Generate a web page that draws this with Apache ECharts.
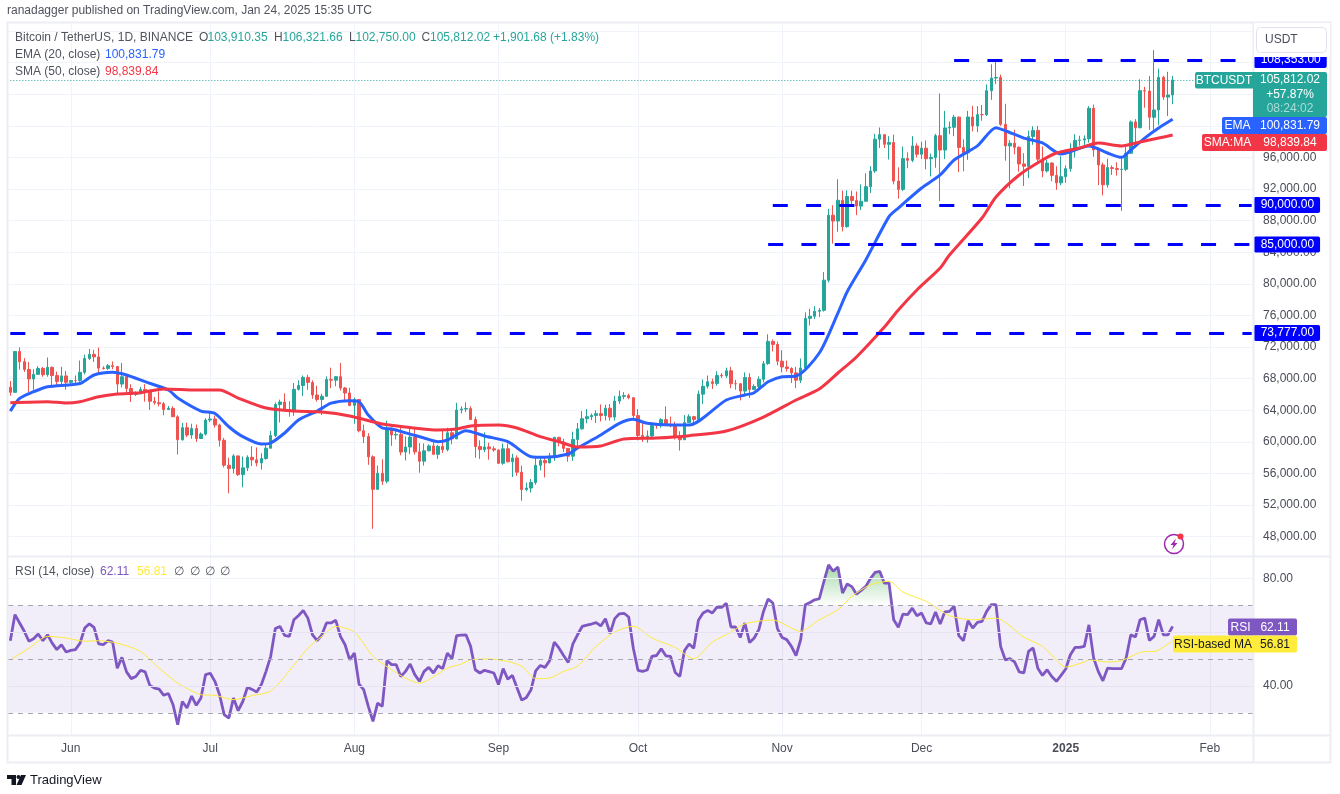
<!DOCTYPE html>
<html>
<head>
<meta charset="utf-8">
<title>BTCUSDT 1D</title>
<script src="https://cdn.jsdelivr.net/npm/echarts@6/dist/echarts.min.js"></script>
<style>
html,body{margin:0;padding:0;background:#fff}
#chart{width:1340px;height:794px}
</style>
</head>
<body>
<div id="chart"></div>
<script type="text/javascript">
// daily candles, 2024-05-19 .. 2025-01-24
var opens = [66915,66274,71446,70148,69166,67969,68549,69290,68507,69436,68398,67652,68352,
67540,67766,67765,68809,70567,71082,70757,69342,69305,69649,69538,67321,68243,66756,66011,66191,66639,66490,65140,64960,64828,64096,64245,63180,60277,61806,60864,61706,60427,60986,
62772,62899,62135,60208,57050,56628,58230,55857,56714,58050,57725,57339,57889,59204,60797,64724,65043,64087,63987,66660,67139,68165,67532,65936,65372,65777,67912,67813,68255,66819,66201,
64619,65357,61415,60680,58116,53991,56034,55027,61710,60880,60945,58719,59354,60609,58739,57560,58874,59491,58427,59438,59013,61156,60381,64037,64157,64220,62834,59415,59034,59359,59123,
58973,57301,59132,57487,57970,56160,53962,54160,54869,57040,57649,57343,58127,60571,60005,59182,58192,60308,61649,62940,63192,63348,63578,63339,64262,63143,65173,65769,65858,65602,
63327,60805,60649,60752,62086,62058,62819,62224,62160,60636,60274,62445,63193,62851,66046,67041,67612,67399,68418,68362,69001,67367,67361,66432,68161,66642,67014,67929,69907,72720,72339,
70215,69482,69289,68741,67811,69359,75639,75904,76538,76649,80474,88701,87955,90585,87250,91066,90558,89845,90464,92310,94287,98317,98892,97672,97900,93010,91965,95863,95643,97460,
96407,97185,95840,96002,98768,96945,99740,99831,101109,97276,96593,101125,100000,101424,101420,104463,106058,106133,100204,97461,97805,97291,95186,94881,98663,99430,95792,94299,95300,93738,92792,
93576,94591,96984,98174,98220,98363,102235,96954,95060,92552,94726,94599,94488,94516,96534,100504,99756,104462,104408,101089,102016,106146,103653,103910.35];
var closes = [66274,71446,70148,69166,67969,68549,69290,68507,69436,68398,67652,68352,67540,
67766,67765,68809,70567,71082,70757,69342,69305,69649,69538,67321,68243,66756,66011,66191,66639,66490,65140,64960,64828,64096,64245,63180,60277,61806,60864,61706,60427,60986,62772,
62899,62135,60208,57050,56628,58230,55857,56714,58050,57725,57339,57889,59204,60797,64724,65043,64087,63987,66660,67139,68165,67532,65936,65372,65777,67912,67813,68255,66819,66201,64619,
65357,61415,60680,58116,53991,56034,55027,61710,60880,60945,58719,59354,60609,58739,57560,58874,59491,58427,59438,59013,61156,60381,64037,64157,64220,62834,59415,59034,59359,59123,58973,
57301,59132,57487,57970,56160,53962,54160,54869,57040,57649,57343,58127,60571,60005,59182,58192,60308,61649,62940,63192,63348,63578,63339,64262,63143,65173,65769,65858,65602,63327,
60805,60649,60752,62086,62058,62819,62224,62160,60636,60274,62445,63193,62851,66046,67041,67612,67399,68418,68362,69001,67367,67361,66432,68161,66642,67014,67929,69907,72720,72339,70215,
69482,69289,68741,67811,69359,75639,75904,76538,76649,80474,88701,87955,90585,87250,91066,90558,89845,90464,92310,94287,98317,98892,97672,97900,93010,91965,95863,95643,97460,96407,
97185,95840,96002,98768,96945,99740,99831,101109,97276,96593,101125,100000,101424,101420,104463,106058,106133,100204,97461,97805,97291,95186,94881,98663,99430,95792,94299,95300,93738,92792,93576,
94591,96984,98174,98220,98363,102235,96954,95060,92552,94726,94599,94488,94516,96534,100504,99756,104462,104408,101089,102016,106146,103653,103910,105812.02];
var highs = [67700,71500,71950,70600,70100,69200,69580,69500,70680,69560,68900,69500,69000,
67850,68400,70300,71050,71760,71650,71950,69580,69850,70180,69580,70000,68450,67300,66400,66950,67300,66150,65700,66400,65050,64550,64500,63370,62400,62450,62300,62200,61200,63000,
63800,63300,62300,60500,58000,58450,58250,58150,58300,59450,59300,58550,59850,61400,65000,65350,66150,65150,67450,67800,68400,68500,67800,67100,66100,68300,69400,68300,70000,66950,66850,
65600,65000,62200,61100,58300,57000,57800,62700,61800,61450,61800,60700,61800,61600,59850,59800,59700,60250,59600,61400,61800,61400,64950,64500,65000,64500,63200,60200,61200,59900,59450,
59050,59800,59800,58500,58300,57000,54850,55300,58100,58050,58000,58600,60650,60650,60400,59200,61300,62400,63900,64150,63600,64000,64750,64700,64800,65850,66500,66300,66100,65600,
64150,62400,61450,62500,62400,63000,64500,63200,62550,61350,63400,63500,63300,66500,67900,68400,68000,68950,68700,69400,69500,67850,67450,68800,68700,67300,68300,70250,73620,72950,72700,
71600,70300,69450,69500,70550,76400,76850,77200,76950,81500,89500,89950,93250,91800,91850,91800,91700,92600,94000,94900,99000,99800,98800,98700,98900,94750,97400,96650,98700,97800,
98000,98150,96500,99000,104100,101900,100550,101400,101200,98300,101900,102550,102500,102650,105250,107800,108353,106500,102800,98200,99500,97400,96550,99400,99950,100000,97400,95700,95400,94900,96150,
95000,97800,98950,98750,98800,102500,102700,97250,95350,95850,95000,95400,95900,97350,100700,100850,105900,104950,106300,109588,107250,106350,106850,106321.66];
var lows = [65850,66600,69150,68850,66300,66600,68500,68250,68250,67200,67100,67150,66600,
67400,67400,67600,68550,70370,70120,68500,69150,69100,69200,66050,66900,66300,65050,65800,66000,65100,64050,64700,64500,63380,64050,63200,58400,60150,60600,60400,60000,60400,60800,
62500,61800,59400,56770,53500,56000,55700,54250,56300,56950,56900,56500,57750,59450,60600,62450,63900,63200,63300,66500,65800,66600,65450,65100,63400,65750,66800,67050,66500,65300,64500,
62300,61200,59850,57100,49000,53950,54550,54750,59500,60300,58300,57650,58450,58400,56100,57000,58800,58400,57850,58600,58800,59700,60350,63600,63800,62800,58000,57850,58700,57750,58750,
57200,57100,57400,55550,55700,52550,53750,53600,54600,56400,55500,57300,57600,59450,58700,57500,57600,59200,61550,62350,62750,62400,62600,62700,62700,62700,64800,65400,65400,62850,
60200,60000,59900,60450,61650,61800,62150,61850,60300,58900,60400,62450,62050,62450,64800,66750,66700,67100,68100,68100,66800,66600,65250,66050,65550,66550,66800,67550,69750,71450,69700,
68800,68900,67450,66800,67450,69000,74750,75550,75800,76500,80200,85100,86600,86650,87100,90100,88700,89350,91500,91500,94050,97200,97200,95750,92600,90800,91750,94650,95400,96000,
95800,94500,93600,94700,90500,95800,98950,98700,94150,94250,95700,99300,99200,100650,101250,103300,105300,100000,95600,92100,96400,94200,92400,93400,97600,95200,93500,94100,93000,91900,92500,
92800,94200,96000,97500,97200,97900,96100,92500,91200,92200,93800,93700,89250,94300,96500,97350,99950,102300,99500,99500,100100,103300,101250,102750];

// moving averages at these day numbers (0 = 2024-05-19)
var emaDays = [0,2,5,8,15,18,22,25,29,34,36,41,44,47,50,54,56,59,62,66,69,73,75,77,80,82,86,89,92,94,98,102,107,112,115,120,122,127,131,134,137,142,146,154,158,160,163,166,169,174,178,180,184,189,191,196,200,203,208,212,214,218,222,226,232,236,239,241,244,247,250];
var emaValues = [63900,65500,66350,66990,67400,68470,68810,68470,67620,66570,65550,63900,63600,61920,60660,59730,59860,61130,62780,63900,64900,65220,65090,63400,61760,61630,60990,60490,60030,60240,61420,60750,60030,58130,58050,58470,59220,60870,62350,62860,62350,62140,62140,65300,65940,66230,67620,68250,68340,71250,76300,79010,83030,88510,89600,92140,93790,95680,97470,99770,99390,98460,97840,96440,97470,96570,96020,96950,98460,99730,100831.79];
var smaDays = [0,8,12,15,19,23,28,33,40,45,49,55,61,67,73,80,85,92,96,99,105,109,114,118,122,127,132,139,146,154,162,169,174,178,182,188,191,195,200,202,209,212,217,222,225,230,234,239,243,247,250];
var smaValues = [64960,65090,64920,65090,65720,66060,66230,66700,66570,66570,65550,64290,63900,63780,63280,62270,61890,61510,61630,62010,62140,61760,60660,60030,59350,59480,60370,60490,60790,61380,63150,65300,66700,68720,70750,74540,76700,79230,82010,83650,88340,91000,93790,95680,96570,97200,97840,97470,97960,98460,98839.84];

// RSI per day
var rsiValues = [56.8,66.5,63.4,60.3,56.6,57.5,59.3,56.8,59,55.9,53.5,55.3,52.6,
53.2,53.5,55.9,61.5,63.1,61.8,55.6,55.3,56.8,56.3,46.6,50.6,45.2,42.7,43.5,45.8,45.2,40.2,39.2,38.8,36.5,37.2,33,25.6,34.2,31.8,36.2,32.8,35.5,44.2,
44.7,41.7,36.7,29.3,28,35.5,30.8,34.2,39.5,38.7,37.7,40.5,45.4,51,61.3,62.1,58.8,58.4,64.6,66.2,68,65.2,59,56.8,59,63.4,63.4,64.4,58.4,55.3,49.7,
52.2,40.7,38.6,32.4,26.8,33.6,32.4,49.4,47.9,47.9,43.5,45.4,48.1,44.2,41.7,45.4,46.9,44.8,47.5,46.4,52.2,50.1,58.7,58.9,59,54.7,46,44.8,45.8,45.3,44.8,
40.5,46.4,42.5,43.9,39.2,34.7,35.7,38.6,45.6,47.6,46.9,49.4,56.3,54.1,51.3,48.7,55.6,59,62.1,62.6,63,63.5,62.3,65,59.5,65,66.8,67,65.6,54,
45.8,45.4,45.9,51,51.3,53.8,51.2,51,45,43.5,53.1,55.6,54,64.4,67.1,68,67.1,69.3,69.2,70.7,61.9,61.9,58,63.4,56.1,57.8,60.9,67.7,72.3,70.8,61.3,
58,57.2,54.7,51.3,57.2,70.2,71,72,72.4,78.9,85,82.6,84.2,74.5,77.9,76.9,74.1,75.5,77,79.9,82.2,82.6,78.2,78.2,64.6,61.8,66.7,66.5,68.9,66.1,
67.1,63.4,63.1,67.5,63,67.5,67.7,69.6,58.7,56.8,64.2,61.5,63.6,64,67.7,70.2,70.2,54.7,49.7,50.1,48.9,45.2,44.8,52.8,54.1,46.6,43.9,46,43.5,41.7,43.9,
46.3,51.6,54.3,54.3,54.7,62.7,50.4,45.4,41.9,46.6,46.4,46.4,46.4,50.4,59,58.2,64.6,65.2,56.9,58.4,64.6,59,59,62.11];
var rsiMaDays = [0,4,8,12,16,19,23,28,32,36,39,41,44,48,52,56,59,64,67,70,74,78,82,85,88,90,94,97,99,103,107,110,113,116,119,122,126,130,134,138,143,147,151,155,158,164,170,174,178,181,185,189,192,197,202,207,212,218,222,226,227,231,232,236,239,244,246,250];
var rsiMaValues = [49.7,54,58.4,57.8,56.6,56.8,55.9,52.8,46.6,41,38.2,36.7,36.5,34.9,36.4,38,43.5,54,58.4,62.1,60,51,46,42.9,41,42.3,46.6,48.1,49.7,50,49.1,47.3,42.7,42.9,45.4,47.3,54.7,60,62.2,57.8,54.3,50.1,56.3,60,63.1,64.5,60.3,64.6,68.3,73.3,77.6,78.9,74.9,71.4,66.1,64.6,65.2,58.1,54.7,47.9,47,48.9,49.7,48.9,49.4,52.8,52.8,56.81];

var priceTicks = [48000,112000];
var levelValues = [108353,90000,85000,73777];
var levelStartDays = [203,164,163,0];
var monthTicks = ['2024-06-01','2024-07-01','2024-08-01','2024-09-01','2024-10-01','2024-11-01','2024-12-01','2025-01-01','2025-02-01'];
var monthLabels = ['Jun','Jul','Aug','Sep','Oct','Nov','Dec','2025','Feb'];

var dates = [];
for (var d = 0; d < 268; d++) {
    dates.push(new Date(Date.UTC(2024, 4, 19 + d)).toISOString().slice(0, 10));
}
var fontName = '"Liberation Sans"';
var gridColor = '#f0f3fa';
var frameColor = '#eceef4';
var green = '#26a69a', red = '#ef5350';

function money(v) {
    return v.toLocaleString('en-US', {minimumFractionDigits: 2, maximumFractionDigits: 2});
}
function isMonth(i, val) { return monthTicks.indexOf(val) >= 0; }

var candles = opens.map(function (o, i) { return [o, closes[i], lows[i], highs[i]]; });
function zip(days, vals) { return days.map(function (x, i) { return [x, vals[i]]; }); }

function flat(v, color, type) {
    return {yAxis: v, lineStyle: {color: color, type: type, width: 1}};
}

var levelLines = levelValues.map(function (v, i) {
    return [{
        name: money(v),
        coord: [levelStartDays[i], v],
        lineStyle: {color: '#0000ff', width: 3, type: [15, 18.3]},
        label: {
            show: true, position: 'end', distance: 2, formatter: '{b}',
            color: '#fff', backgroundColor: '#0000ff', borderRadius: 2,
            fontFamily: fontName, fontSize: 12, padding: [2, 6, 2, 7]
        }
    }, {coord: [267, v]}];
});
levelLines.push([{
    coord: [0, 105812.02],
    lineStyle: {color: green, width: 1, type: [1, 2]},
    label: {show: false}
}, {coord: [255, 105812.02]}]);

// fixed chart furniture: frame, header text, axis tags
function box(x, y, w, h, color, r) {
    return {type: 'rect', z: 100, silent: true, shape: {x: x, y: y, width: w, height: h, r: r || 0}, style: {fill: color}};
}
function label(x, y, text, color, size, align) {
    return {type: 'text', z: 101, silent: true, x: x, y: y, style: {
        text: text, fill: color, font: (size || 12) + 'px ' + fontName,
        textAlign: align || 'left', textVerticalAlign: 'middle'
    }};
}
function tag(x, y, w, h, color, text, textColor, r) {
    return [box(x, y, w, h, color, r), label(x + w / 2, y + h / 2 + 0.5, text, textColor || '#fff', 12, 'center')];
}
var furniture = [].concat(
    [box(1254, 23, 76, 34, '#fff'),
     {type: 'rect', z: 101, silent: true, shape: {x: 1256.5, y: 27.5, width: 70, height: 25, r: 4}, style: {fill: '#fff', stroke: '#e0e3eb', lineWidth: 1}},
     label(1265, 40, 'USDT', '#4a4d57', 12)],
    tag(1195, 72, 58, 16.5, green, 'BTCUSDT', '#fff', [2, 0, 0, 2]),
    [box(1253, 72, 74, 45, green, [0, 2, 2, 0]),
     label(1290, 80, money(105812.02), '#fff', 12, 'center'),
     label(1290, 94.5, '+57.87%', '#fff', 12, 'center'),
     label(1290, 108.5, '08:24:02', '#a8dcd7', 12, 'center')],
    tag(1222, 117, 31, 17, '#2962ff', 'EMA', '#fff', [2, 0, 0, 2]),
    tag(1253, 117, 74, 17, '#2962ff', money(100831.79), '#fff', [0, 2, 2, 0]),
    tag(1202, 134, 51, 17, '#f23645', 'SMA:MA', '#fff', [2, 0, 0, 2]),
    tag(1253, 134, 74, 17, '#f23645', money(98839.84), '#fff', [0, 2, 2, 0]),
    tag(1228, 618.5, 25, 17, '#7e57c2', 'RSI', '#fff', [2, 0, 0, 2]),
    tag(1253, 618.5, 44, 17, '#7e57c2', '62.11', '#fff', [0, 2, 2, 0]),
    tag(1173, 635.5, 80, 17, '#ffeb3b', 'RSI-based MA', '#131722', [2, 0, 0, 2]),
    tag(1253, 635.5, 44, 17, '#ffeb3b', '56.81', '#131722', [0, 2, 2, 0]),
    [
     {type: 'rect', z: 90, silent: true, shape: {x: 7.5, y: 22.5, width: 1323, height: 740}, style: {fill: 'none', stroke: frameColor, lineWidth: 2}},
     {type: 'line', z: 90, silent: true, shape: {x1: 1253.5, y1: 22, x2: 1253.5, y2: 762}, style: {stroke: frameColor, lineWidth: 2}},
     {type: 'line', z: 90, silent: true, shape: {x1: 7, y1: 556.5, x2: 1330, y2: 556.5}, style: {stroke: frameColor, lineWidth: 2}},
     {type: 'line', z: 90, silent: true, shape: {x1: 7, y1: 735.5, x2: 1330, y2: 735.5}, style: {stroke: frameColor, lineWidth: 2}},
     label(7, 11, 'ranadagger published on TradingView.com, Jan 24, 2025 15:35 UTC', '#50535e', 12),
     label(15, 38, 'Bitcoin / TetherUS, 1D, BINANCE', '#50535e', 12),
     label(199, 38, 'O', '#50535e', 12), label(207.5, 38, '103,910.35', green, 12),
     label(274, 38, 'H', '#50535e', 12), label(282.5, 38, '106,321.66', green, 12),
     label(349, 38, 'L', '#50535e', 12), label(355.5, 38, '102,750.00', green, 12),
     label(421.5, 38, 'C', '#50535e', 12), label(430, 38, '105,812.02', green, 12),
     label(493, 38, '+1,901.68 (+1.83%)', green, 12),
     label(15, 55, 'EMA (20, close)', '#50535e', 12),
     label(105, 55, '100,831.79', '#2962ff', 12),
     label(15, 72, 'SMA (50, close)', '#50535e', 12),
     label(105, 72, '98,839.84', '#f23645', 12),
     label(15, 571.5, 'RSI (14, close)', '#50535e', 12),
     label(100, 571.5, '62.11', '#7e57c2', 12),
     label(137, 571.5, '56.81', '#ffeb3b', 12),
     label(174, 571.5, '∅', '#50535e', 12), label(190, 571.5, '∅', '#50535e', 12),
     label(205, 571.5, '∅', '#50535e', 12), label(220, 571.5, '∅', '#50535e', 12),
     // lightning badge
     {type: 'circle', z: 100, silent: true, shape: {cx: 1174, cy: 544, r: 9.5}, style: {fill: '#fff', stroke: '#9c27b0', lineWidth: 1.5}},
     {type: 'polygon', z: 101, silent: true, shape: {points: [[1176, 538.5], [1170.5, 545], [1173.5, 545], [1172, 549.5], [1177.5, 543], [1174.5, 543]]}, style: {fill: '#9c27b0'}},
     {type: 'circle', z: 101, silent: true, shape: {cx: 1180.5, cy: 536.5, r: 3}, style: {fill: '#f23645'}},
     // TradingView mark
     {type: 'polygon', z: 101, silent: true, shape: {points: [[7, 775], [16, 775], [16, 785], [11.5, 785], [11.5, 779], [7, 779]]}, style: {fill: '#131722'}},
     {type: 'circle', z: 101, silent: true, shape: {cx: 18.5, cy: 777, r: 2}, style: {fill: '#131722'}},
     {type: 'polygon', z: 101, silent: true, shape: {points: [[21, 775], [26, 775], [21.5, 785], [16.5, 785]]}, style: {fill: '#131722'}},
     label(30, 780.5, 'TradingView', '#131722', 13)
    ]
);

var chart = echarts.init(document.getElementById('chart'));
chart.setOption({
    animation: false,
    backgroundColor: '#fff',
    textStyle: {fontFamily: fontName},
    graphic: {elements: furniture},
    grid: [
        {left: 8, width: 1246, top: 22, height: 713},       // date axis, vertical lines
        {left: 8, width: 1246, top: 31.1, height: 505.6},   // price pane
        {left: 8, width: 1246, top: 551.4, height: 188.3}   // RSI pane
    ],
    xAxis: [
        {
            type: 'category', gridIndex: 0, data: dates, boundaryGap: true,
            axisLine: {show: false}, axisTick: {show: false},
            axisLabel: {
                interval: isMonth, margin: 8, hideOverlap: false, color: '#4a4d57', fontSize: 12,
                formatter: function (val) {
                    var name = monthLabels[monthTicks.indexOf(val)];
                    return name === '2025' ? '{b|2025}' : name;
                },
                rich: {b: {fontWeight: 'bold', fontSize: 12, color: '#4a4d57'}}
            },
            splitLine: {show: true, interval: isMonth, alignWithLabel: true, lineStyle: {color: gridColor, width: 1}}
        },
        {type: 'category', gridIndex: 1, data: dates, show: false},
        {type: 'category', gridIndex: 2, data: dates, show: false}
    ],
    yAxis: [
        {type: 'value', gridIndex: 0, min: 0, max: 1, show: false, splitLine: {show: false}},
        {
            type: 'value', gridIndex: 1, position: 'right', min: priceTicks[0], max: priceTicks[1], interval: 4000,
            axisLine: {show: false}, axisTick: {show: false},
            axisLabel: {margin: 9, color: '#4a4d57', fontSize: 12, formatter: function (v) { return money(v); }},
            splitLine: {lineStyle: {color: gridColor, width: 1}}
        },
        {
            type: 'value', gridIndex: 2, position: 'right', min: 20, max: 90, interval: 10,
            axisLine: {show: false}, axisTick: {show: false},
            axisLabel: {margin: 9, color: '#4a4d57', fontSize: 12, formatter: function (v) { return v === 80 || v === 40 ? v.toFixed(2) : ''; }},
            splitLine: {show: false}
        }
    ],
    series: [
        {
            name: 'BTCUSDT', type: 'candlestick', xAxisIndex: 1, yAxisIndex: 1, data: candles, barWidth: 3, z: 3,
            itemStyle: {color: green, color0: red, borderColor: green, borderColor0: red, borderWidth: 1},
            markLine: {silent: true, symbol: 'none', animation: false, data: levelLines, z: 5}
        },
        {name: 'EMA', type: 'line', xAxisIndex: 1, yAxisIndex: 1, data: zip(emaDays, emaValues), smooth: 0.25, showSymbol: false, lineStyle: {color: '#2962ff', width: 3}, z: 4},
        {name: 'SMA', type: 'line', xAxisIndex: 1, yAxisIndex: 1, data: zip(smaDays, smaValues), smooth: 0.25, showSymbol: false, lineStyle: {color: '#f23645', width: 3}, z: 4},
        {
            name: 'RSI', type: 'line', xAxisIndex: 2, yAxisIndex: 2, data: rsiValues, showSymbol: false, lineStyle: {color: '#7e57c2', width: 2.8}, z: 4,
            markArea: {silent: true, itemStyle: {color: 'rgba(126,87,194,0.1)'}, data: [[{yAxis: 30}, {yAxis: 70}]]},
            markLine: {
                silent: true, symbol: 'none', animation: false, label: {show: false},
                data: [flat(80, gridColor, 'solid'), flat(60, '#e6e2f2', 'solid'), flat(40, '#e6e2f2', 'solid'),
                       flat(70, '#a3a6af', [5, 5]), flat(50, '#a3a6af', [5, 5]), flat(30, '#a3a6af', [5, 5])]
            }
        },
        {
            name: 'RSI overbought', type: 'line', xAxisIndex: 2, yAxisIndex: 2, showSymbol: false, z: 3,
            data: rsiValues.map(function (v) { return Math.max(v, 70); }),
            lineStyle: {width: 0}, areaStyle: {
                origin: 70, opacity: 1,
                color: new echarts.graphic.LinearGradient(0, 0, 0, 1, [{offset: 0, color: 'rgba(76,175,80,0.5)'}, {offset: 1, color: 'rgba(76,175,80,0)'}])
            }
        },
        {name: 'RSI-based MA', type: 'line', xAxisIndex: 2, yAxisIndex: 2, data: zip(rsiMaDays, rsiMaValues), smooth: 0.25, showSymbol: false, lineStyle: {color: '#ffeb3b', width: 1}, z: 4}
    ]
});
</script>
</body>
</html>
